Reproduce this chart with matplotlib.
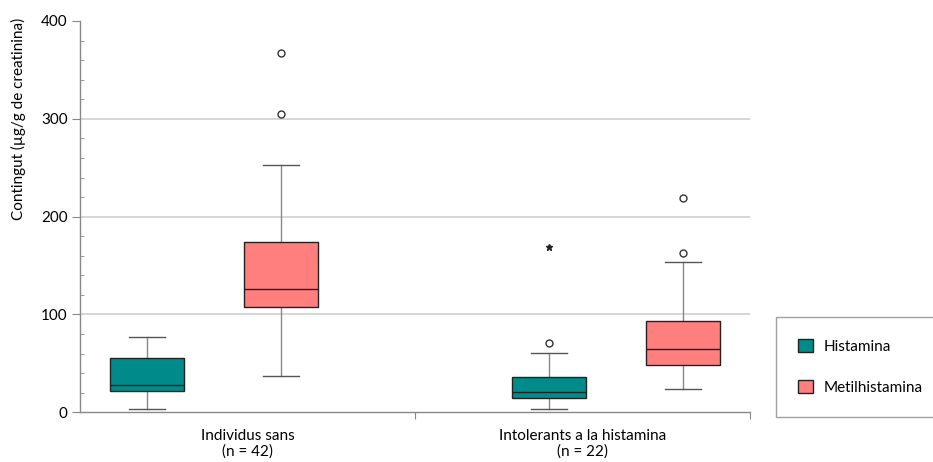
import matplotlib.pyplot as plt
from matplotlib.patches import Patch
from matplotlib.ticker import MultipleLocator

plt.rcParams['font.family'] = ['Lato', 'DejaVu Sans']

# Grups i sèries
grups = ['Individus sans\n(n = 42)', 'Intolerants a la histamina\n(n = 22)']
series = ['Histamina', 'Metilhistamina']
colors = ['#008b8b', '#ff7f7f']

# Estadístics per caixa (ordre: sans-H, sans-MH, intol-H, intol-MH)
whislo = [3.1, 36.8, 3.7, 23.5]
q1 = [22.1, 107.4, 14.9, 48.0]
med = [27.6, 126.1, 20.4, 64.7]
q3 = [55.2, 173.8, 36.4, 93.0]
whishi = [77.3, 252.9, 60.3, 154.0]
outliers = [[], [305.3, 367.0], [70.5], [163.2, 218.8]]
extrems = [[], [], [168.7], []]

posicions = [0.2, 0.6, 1.4, 1.8]

fig = plt.figure(figsize=(9.33, 4.62), dpi=100)
ax = fig.add_axes([80 / 933, 1 - 412.3 / 462, 670 / 933, 391.3 / 462])

stats = []
for i in range(4):
    stats.append(dict(whislo=whislo[i], q1=q1[i], med=med[i], q3=q3[i],
                      whishi=whishi[i], fliers=outliers[i]))

bp = ax.bxp(stats, positions=posicions, widths=0.22, patch_artist=True,
            showfliers=True, manage_ticks=False,
            boxprops=dict(edgecolor='#222222', linewidth=1.0),
            medianprops=dict(color='#222222', linewidth=1.0),
            whiskerprops=dict(color='#888888', linewidth=1.0),
            capprops=dict(color='#555555', linewidth=1.0),
            capwidths=0.11,
            flierprops=dict(marker='o', markersize=5, markerfacecolor='white',
                            markeredgecolor='#333333', markeredgewidth=1.0))
for i, box in enumerate(bp['boxes']):
    box.set_facecolor(colors[i % 2])
    box.set_zorder(3)
for m in bp['medians']:
    m.set_zorder(4)

for p, vals in zip(posicions, extrems):
    if vals:
        ax.plot([p] * len(vals), vals, marker='*', linestyle='none',
                color='#222222', markersize=5)

# Línies de graella
ax.hlines([100, 200, 300], 0, 2, colors='#cfcfcf', linewidth=1.2, zorder=0)

ax.set_xlim(0, 2)
ax.set_ylim(0, 400)
ax.yaxis.set_major_locator(MultipleLocator(100))
ax.yaxis.set_minor_locator(MultipleLocator(20))
ax.tick_params(axis='y', which='major', direction='out', length=6,
               color='#888888', labelsize=11, pad=3)
ax.tick_params(axis='y', which='minor', direction='in', length=3,
               color='#888888')

ax.set_xticks([1, 2])
ax.set_xticklabels(['', ''])
ax.set_xticks([0.5, 1.5], minor=True)
ax.set_xticklabels(grups, minor=True, fontsize=11, linespacing=1.15)
ax.tick_params(axis='x', which='major', direction='out', length=5,
               color='#888888')
ax.tick_params(axis='x', which='minor', length=0, pad=12)

for s in ['top', 'right']:
    ax.spines[s].set_visible(False)
for s in ['left', 'bottom']:
    ax.spines[s].set_color('#888888')
    ax.spines[s].set_linewidth(1.0)

fig.text(18 / 933, 1 - 119 / 462, 'Contingut (µg/g de creatinina)',
         rotation=90, ha='center', va='center', fontsize=11)

handles = [Patch(facecolor=c, edgecolor='#222222', linewidth=1.0) for c in colors]
leg = fig.legend(handles, series, loc='upper left',
                 bbox_to_anchor=(776 / 933, 1 - 316.5 / 462),
                 fontsize=11, frameon=True, fancybox=False,
                 handlelength=1.0, handleheight=1.0, handletextpad=0.65,
                 labelspacing=1.7, borderpad=1.45, borderaxespad=0)
leg.get_frame().set_edgecolor('#888888')
leg.get_frame().set_linewidth(1.0)

fig.savefig('out.png', dpi=100)
